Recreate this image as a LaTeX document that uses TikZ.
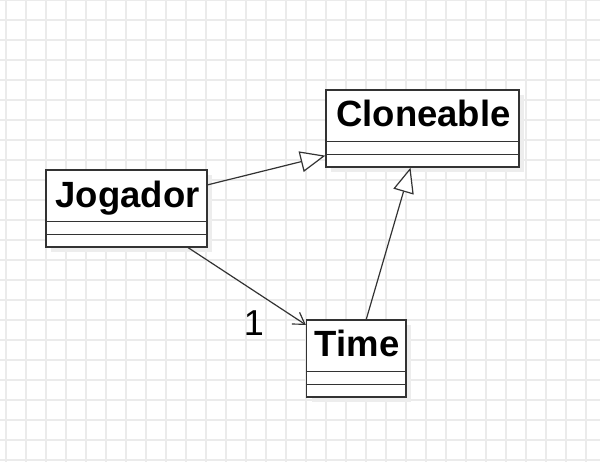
\documentclass[tikz,border=0pt]{standalone}
\usepackage{fontspec}
\setmainfont{Liberation Sans}
\usetikzlibrary{arrows.meta,shadows}
\definecolor{gridc}{HTML}{EBEBEB}
\definecolor{linec}{HTML}{333333}
\begin{document}
\begin{tikzpicture}[x=1bp,y=-1bp,
  gridline/.style={draw=gridc,line width=1.2bp},
  umlbox/.style={draw=linec,line width=1.3bp,fill=white,inner sep=0pt,minimum height=77bp,
    drop shadow={shadow xshift=5bp,shadow yshift=-5bp,fill=black!7,opacity=1}},
  divider/.style={draw=linec,line width=1.3bp},
  title/.style={anchor=base,inner sep=0pt,font=\fontsize{36.5bp}{40bp}\selectfont\bfseries},
  mult/.style={anchor=base,inner sep=0pt,font=\fontsize{36bp}{40bp}\selectfont},
  realize/.style={draw=linec,line width=1.2bp,-{Triangle[open,length=25bp,width=21bp,fill=white]}},
  assoc/.style={draw=linec,line width=1.2bp,-{Straight Barb[length=11bp,width=14bp]}}
]
\useasboundingbox (0,0) rectangle (600,462);
\fill[white] (0,0) rectangle (600,462);
\foreach \x in {6,26,...,586} \draw[gridline] (\x,0) -- (\x,462);
\foreach \y in {0,20,...,460} \draw[gridline] (0,\y) -- (600,\y);

% class boxes
\node[umlbox,minimum width=161bp] (jog) at (126.5,208.5) {};
\node[umlbox,minimum width=193bp] (clo) at (422.5,128.5) {};
\node[umlbox,minimum width=99.5bp] (time) at (356.25,358.5) {};

\foreach \n in {jog,clo,time}{
  \draw[divider] ([yshift=-52bp]\n.north west) -- ([yshift=-52bp]\n.north east);
  \draw[divider] ([yshift=-65bp]\n.north west) -- ([yshift=-65bp]\n.north east);
}

\node[title] (jogt) at ([xshift=1bp,yshift=-38.5bp]jog.north) {Jogador};
\node[title] (clot) at ([xshift=1bp,yshift=-36.7bp]clo.north) {Cloneable};
\node[title] (timet) at ([xshift=1bp,yshift=-36.7bp]time.north) {Time};

% connectors
\draw[realize] ([yshift=-15.5bp]jog.north east) -- ([yshift=12bp]clo.south west);
\draw[realize] ([xshift=10bp]time.north) -- ([xshift=-12bp]clo.south);
\draw[assoc] ([xshift=-19.5bp]jog.south east) -- ([yshift=-5.5bp]time.north west);
\node[mult] (one) at (253.8,335) {1};
\end{tikzpicture}
\end{document}
